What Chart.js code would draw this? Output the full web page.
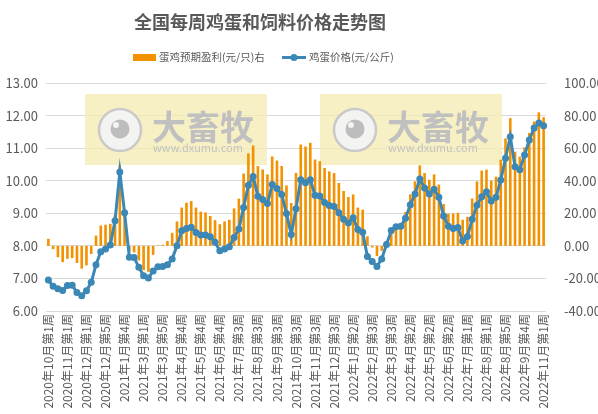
<!DOCTYPE html>
<html>
<head>
<meta charset="utf-8">
<script src="https://cdn.jsdelivr.net/npm/chart.js@4.4.0/dist/chart.umd.min.js"></script>
<style>
  html, body { margin: 0; padding: 0; background: #fff; }
  #wrap { width: 598px; height: 414px; }
</style>
</head>
<body>
<div id="wrap"><canvas id="chart" width="598" height="414"></canvas></div>
<script>
const categories = [
  '2020年10月第1周', '2020年10月第2周', '2020年10月第3周', '2020年10月第4周',
  '2020年11月第1周', '2020年11月第2周', '2020年11月第3周', '2020年11月第4周',
  '2020年12月第1周', '2020年12月第2周', '2020年12月第3周', '2020年12月第4周', '2020年12月第5周',
  '2021年1月第1周', '2021年1月第2周', '2021年1月第3周', '2021年1月第4周',
  '2021年2月第1周', '2021年2月第2周', '2021年2月第4周',
  '2021年3月第1周', '2021年3月第2周', '2021年3月第3周', '2021年3月第4周', '2021年3月第5周',
  '2021年4月第1周', '2021年4月第2周', '2021年4月第3周', '2021年4月第4周',
  '2021年5月第1周', '2021年5月第2周', '2021年5月第3周', '2021年5月第4周',
  '2021年6月第1周', '2021年6月第2周', '2021年6月第3周', '2021年6月第4周', '2021年6月第5周',
  '2021年7月第1周', '2021年7月第2周', '2021年7月第3周', '2021年7月第4周',
  '2021年8月第1周', '2021年8月第2周', '2021年8月第3周', '2021年8月第4周',
  '2021年9月第1周', '2021年9月第2周', '2021年9月第3周', '2021年9月第4周',
  '2021年10月第1周', '2021年10月第2周', '2021年10月第3周', '2021年10月第4周',
  '2021年11月第1周', '2021年11月第2周', '2021年11月第3周', '2021年11月第4周',
  '2021年12月第1周', '2021年12月第2周', '2021年12月第3周', '2021年12月第4周', '2021年12月第5周',
  '2022年1月第1周', '2022年1月第2周', '2022年1月第3周', '2022年1月第4周',
  '2022年2月第2周', '2022年2月第3周', '2022年2月第4周',
  '2022年3月第1周', '2022年3月第2周', '2022年3月第3周', '2022年3月第4周', '2022年3月第5周',
  '2022年4月第1周', '2022年4月第2周', '2022年4月第3周', '2022年4月第4周',
  '2022年5月第1周', '2022年5月第2周', '2022年5月第3周', '2022年5月第4周',
  '2022年6月第1周', '2022年6月第2周', '2022年6月第3周', '2022年6月第4周', '2022年6月第5周',
  '2022年7月第1周', '2022年7月第2周', '2022年7月第3周', '2022年7月第4周',
  '2022年8月第1周', '2022年8月第2周', '2022年8月第3周', '2022年8月第4周', '2022年8月第5周',
  '2022年9月第1周', '2022年9月第2周', '2022年9月第3周', '2022年9月第4周',
  '2022年10月第2周', '2022年10月第3周', '2022年10月第4周',
  '2022年11月第1周'
];

// 鸡蛋价格(元/公斤), left axis
const eggPrice = [
  6.95, 6.76, 6.68, 6.63, 6.78, 6.79, 6.57, 6.47, 6.62, 6.88,
  7.42, 7.82, 7.90, 8.03, 8.77, 10.27, 9.02, 7.65, 7.64, 7.34,
  7.08, 7.01, 7.23, 7.36, 7.37, 7.42, 7.60, 8.00, 8.46, 8.53,
  8.57, 8.41, 8.33, 8.33, 8.28, 8.11, 7.85, 7.90, 7.97, 8.26,
  8.52, 9.18, 9.86, 10.13, 9.52, 9.42, 9.30, 9.88, 9.76, 9.58,
  8.99, 8.35, 9.14, 10.03, 9.94, 10.03, 9.55, 9.53, 9.33, 9.24,
  9.21, 9.02, 8.82, 8.70, 8.86, 8.50, 8.42, 7.67, 7.52, 7.37,
  7.60, 8.04, 8.47, 8.59, 8.60, 8.85, 9.26, 9.59, 10.05, 9.78,
  9.59, 9.74, 9.49, 8.92, 8.60, 8.53, 8.56, 8.15, 8.29, 8.82,
  9.25, 9.51, 9.66, 9.38, 9.49, 10.02, 10.69, 11.35, 10.43, 10.34,
  10.79, 11.25, 11.62, 11.77, 11.69
];

// 蛋鸡预期盈利(元/只), right axis
const layerProfit = [
  4.3, -2, -7, -10, -8, -7.5, -10.5, -14, -12, -5,
  6.3, 12.5, 13, 13.5, 19, 49.5, 22, -3.5, -4, -9,
  -15, -16, -5.5, 0.3, 0.6, 3, 8, 15, 23.5, 26.5,
  27.5, 23.5, 21, 20.5, 18.4, 15.8, 13.3, 15, 16, 23,
  29, 44.4, 56.8, 61.6, 49, 46.9, 43.9, 54.9, 52.4, 49,
  37.1, 26.3, 44.7, 62.2, 61, 63.3, 53, 52, 47.8, 45.7,
  44.7, 38.6, 33.7, 30, 31.6, 23.5, 22.2, 5.9, -1, -6.3,
  -3, 3, 9, 11, 12.7, 20.8, 31.6, 39.6, 49.4, 44.7,
  40.6, 43.9, 37.6, 25.7, 19.7, 19.9, 20.3, 16, 17.8, 29.1,
  39.6, 46.2, 46.8, 40, 42.5, 52.9, 66, 78.4, 57.8, 54.8,
  60.5, 69.3, 76.3, 82, 79
];

const leftMin = 6, leftMax = 13, leftStep = 1;
const rightMin = -40, rightMax = 100, rightStep = 20;
const labelEvery = 4;

const FONT = '"Noto Sans CJK SC", "Noto Sans", sans-serif';
const TEXT = '#595959';
const BAR_COLOR = '#f39200';
const LINE_COLOR = '#3b87b6';

// title, legend and the dxumu watermarks
const decorPlugin = {
  id: 'decor',
  beforeDatasetsDraw(chart) {
    const ctx = chart.ctx;
    [85, 320].forEach(x0 => {
      ctx.save();
      ctx.fillStyle = 'rgba(243, 235, 176, 0.75)';
      ctx.fillRect(x0, 94, 182, 71);
      // logo
      ctx.beginPath();
      ctx.arc(x0 + 35, 130, 21, 0, Math.PI * 2);
      ctx.fillStyle = '#f3f3f1';
      ctx.fill();
      ctx.lineWidth = 2.5;
      ctx.strokeStyle = '#c9c9c9';
      ctx.stroke();
      ctx.beginPath();
      ctx.arc(x0 + 35, 129, 9.5, 0, Math.PI * 2);
      ctx.fillStyle = '#bdbdbd';
      ctx.fill();
      ctx.beginPath();
      ctx.arc(x0 + 31, 125, 3, 0, Math.PI * 2);
      ctx.fillStyle = '#f3f3f3';
      ctx.fill();
      // name
      ctx.fillStyle = '#c0c0c0';
      ctx.font = 'bold 34px ' + FONT;
      ctx.textBaseline = 'middle';
      ctx.textAlign = 'left';
      ctx.fillText('大畜牧', x0 + 67, 127);
      ctx.font = '11px ' + FONT;
      ctx.fillStyle = '#c2c2c2';
      ctx.fillText('www.dxumu.com', x0 + 68, 148);
      ctx.restore();
    });
  },
  afterDraw(chart) {
    const ctx = chart.ctx;
    ctx.save();
    ctx.fillStyle = TEXT;
    ctx.textBaseline = 'middle';
    ctx.textAlign = 'center';
    ctx.font = 'bold 18px ' + FONT;
    ctx.fillText('全国每周鸡蛋和饲料价格走势图', 260, 22);

    ctx.font = '10.5px ' + FONT;
    ctx.textAlign = 'left';
    ctx.fillStyle = BAR_COLOR;
    ctx.fillRect(133, 54, 23, 7);
    ctx.fillStyle = TEXT;
    ctx.fillText(chart.data.datasets[0].label, 159, 57.5);

    ctx.strokeStyle = LINE_COLOR;
    ctx.lineWidth = 3;
    ctx.beginPath();
    ctx.moveTo(282, 57.5);
    ctx.lineTo(306, 57.5);
    ctx.stroke();
    ctx.beginPath();
    ctx.arc(294, 57.5, 3.5, 0, Math.PI * 2);
    ctx.fillStyle = LINE_COLOR;
    ctx.fill();
    ctx.fillStyle = TEXT;
    ctx.fillText(chart.data.datasets[1].label, 309, 57.5);
    ctx.restore();
  }
};

new Chart(document.getElementById('chart'), {
  data: {
    labels: categories,
    datasets: [
      {
        type: 'bar',
        label: '蛋鸡预期盈利(元/只)右',
        data: layerProfit,
        yAxisID: 'yRight',
        backgroundColor: BAR_COLOR,
        barPercentage: 0.55,
        categoryPercentage: 1,
        order: 2
      },
      {
        type: 'line',
        label: '鸡蛋价格(元/公斤)',
        data: eggPrice,
        yAxisID: 'yLeft',
        borderColor: LINE_COLOR,
        backgroundColor: LINE_COLOR,
        borderWidth: 3,
        pointRadius: 3.5,
        pointBorderWidth: 0,
        tension: 0,
        order: 1
      }
    ]
  },
  options: {
    responsive: false,
    animation: false,
    devicePixelRatio: 1,
    layout: { padding: { top: 83, left: 0, right: 0, bottom: 0 } },
    plugins: {
      legend: { display: false },
      title: { display: false },
      tooltip: { enabled: false }
    },
    scales: {
      x: {
        grid: { display: false, drawTicks: false },
        border: { display: false },
        ticks: {
          autoSkip: false,
          maxRotation: 90,
          minRotation: 90,
          padding: 3,
          color: TEXT,
          font: { family: FONT, size: 12 },
          callback: function (value, index) {
            return index % labelEvery === 0 ? categories[index] : '';
          }
        },
        afterFit: s => { s.height = 103; }
      },
      yLeft: {
        position: 'left',
        min: leftMin,
        max: leftMax,
        grid: { color: '#d9d9d9', drawTicks: false },
        border: { display: false },
        ticks: {
          stepSize: leftStep,
          padding: 8,
          color: TEXT,
          font: { family: FONT, size: 13 },
          callback: v => v.toFixed(2)
        },
        afterFit: s => { s.width = 46; }
      },
      yRight: {
        position: 'right',
        min: rightMin,
        max: rightMax,
        grid: { display: false },
        border: { display: false },
        ticks: {
          stepSize: rightStep,
          padding: 10,
          color: TEXT,
          font: { family: FONT, size: 13 },
          callback: v => v.toFixed(2)
        },
        afterFit: s => { s.width = 52; }
      }
    }
  },
  plugins: [decorPlugin]
});
</script>
</body>
</html>
